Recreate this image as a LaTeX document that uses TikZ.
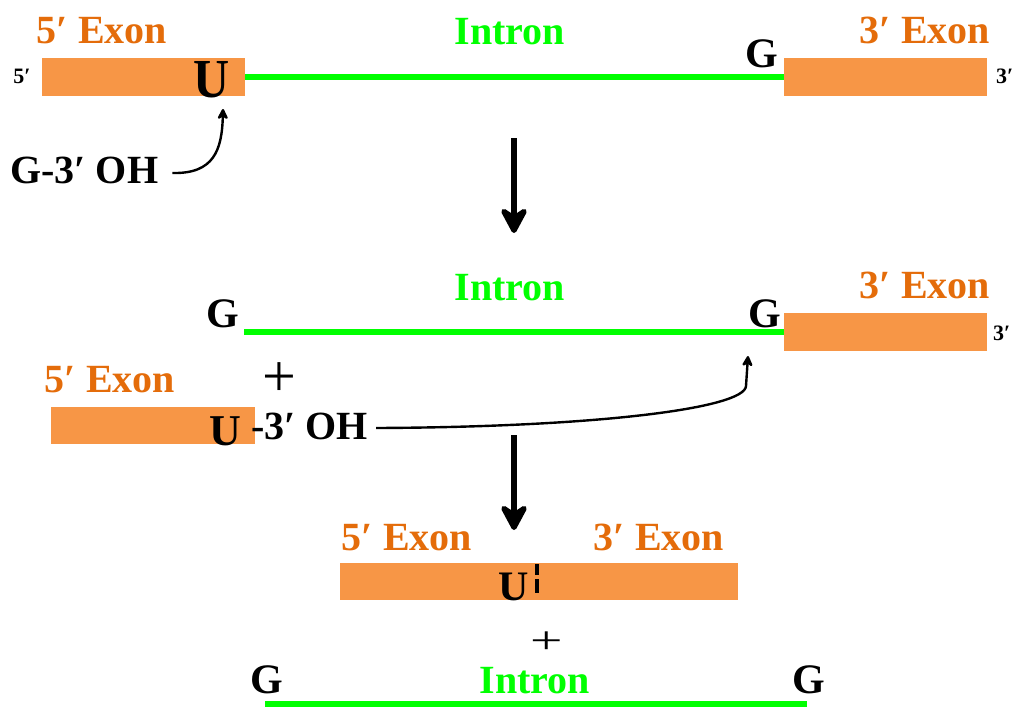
\documentclass[tikz,border=0pt]{standalone}
\usepackage{fontspec}
\setmainfont{Liberation Serif}
\usetikzlibrary{arrows.meta}
\definecolor{exonfill}{HTML}{F79646}
\definecolor{exontext}{HTML}{E46C0A}
\definecolor{introngreen}{HTML}{00FF00}
\newcommand\myfs[1]{\fontsize{#1}{#1}\selectfont}
\begin{document}
\begin{tikzpicture}[x=1pt,y=-1pt,
  exonbox/.style={draw=none,fill=exonfill,inner sep=0,minimum height=38pt},
  intronline/.style={draw=introngreen,line width=6pt},
  lbl/.style={inner sep=0,anchor=base,font=\bfseries\myfs{40}},
  exonlbl/.style={lbl,text=exontext},
  intronlbl/.style={lbl,text=introngreen},
  base/.style={lbl,text=black,font=\bfseries\myfs{42}},
  endlbl/.style={inner sep=0,anchor=base west,font=\bfseries\myfs{22}},
  plus/.style={inner sep=0,font=\myfs{60}},
  bigarrow/.style={line width=6pt,-{Stealth[length=32pt,width=34pt,inset=11pt,round]}},
  thinarrow/.style={line width=2.4pt,-{Stealth[length=13pt,width=13pt,inset=4pt,round]}}
]
\useasboundingbox (0,0) rectangle (1019,707);

% ---------- Row 1 ----------
\node[exonbox,minimum width=203pt] (e5a) at (143.5,76.5) {};
\node[exonbox,minimum width=203pt] (e3a) at (885.5,76.5) {};
\draw[intronline] (e5a.east) -- (e3a.west);
\node[exonlbl] (l5a) at (102,43) {5′ Exon};
\node[intronlbl] (lia) at (510,44) {Intron};
\node[exonlbl] (l3a) at (925,43) {3′ Exon};
\node[endlbl,anchor=base] (p5a) at (22,83) {5′};
\node[endlbl] (p3a) at (996,83) {3′};
\node[base,font=\bfseries\myfs{50}] (ua) at (212,97) {\scalebox{1}[1.1]{U}};
\node[base] (ga) at (762,67) {G};
\node[base,anchor=base west,font=\bfseries\myfs{40}] (goh) at (10,183) {G-3′ OH};
\coordinate (ca) at (223,109);
\draw[thinarrow] ([xshift=14pt,yshift=10pt]goh.base east) .. controls (214,174) and (222,150) .. (ca);

\coordinate (a1s) at (514,138);
\coordinate (a1e) at (514,233);
\draw[bigarrow] (a1s) -- (a1e);

% ---------- Row 2 ----------
\node[intronlbl] (lib) at (510,300) {Intron};
\node[exonlbl] (l3b) at (925,298) {3′ Exon};
\node[exonbox,minimum width=203pt] (e3b) at (885.5,332) {};
\coordinate (ib) at (244,332);
\draw[intronline] (ib) -- (e3b.west);
\node[base] (gb1) at (223,327) {G};
\node[base] (gb2) at (765,327) {G};
\node[endlbl] (p3b) at (993,340) {3′};
\node[exonlbl] (l5b) at (110,392) {5′ Exon};
\node[plus] (plb) at (279,380) {+};
\node[exonbox,minimum width=204pt,minimum height=37pt] (e5b) at (153,425.5) {};
\node[base,font=\bfseries\myfs{44}] (ub) at (225,445) {U};
\node[base,anchor=base west,font=\bfseries\myfs{40}] (oh) at (251,439) {-3′ OH};
\coordinate (cb) at (748,356);
\draw[thinarrow] ([xshift=8pt,yshift=11pt]oh.base east) .. controls (600,427) and (745,408) .. (746,386) -- (cb);

\coordinate (a2s) at (514,435);
\coordinate (a2e) at (514,530);
\draw[bigarrow] (a2s) -- (a2e);

% ---------- Row 3 ----------
\node[exonlbl] (l5c) at (407,550) {5′ Exon};
\node[exonlbl] (l3c) at (659,550) {3′ Exon};
\node[exonbox,minimum width=398pt,minimum height=37pt] (ec) at (539,581.5) {};
\node[base,font=\bfseries\myfs{42}] (uc) at (513.5,600) {U};
\coordinate (m1) at (537,564);
\coordinate (m2) at (537,575);
\coordinate (m3) at (537,579);
\coordinate (m4) at (537,593);
\draw[line width=3.5pt] (m1) -- (m2) (m3) -- (m4);
\node[plus,font=\myfs{48}] (plc) at (547,643) {\scalebox{1.2}[0.8]{+}};
\node[base] (gc1) at (267,693) {G};
\node[intronlbl] (lic) at (535,693) {Intron};
\node[base] (gc2) at (809,693) {G};
\coordinate (ic1) at (265,704);
\coordinate (ic2) at (807,704);
\draw[intronline] (ic1) -- (ic2);
\end{tikzpicture}
\end{document}
